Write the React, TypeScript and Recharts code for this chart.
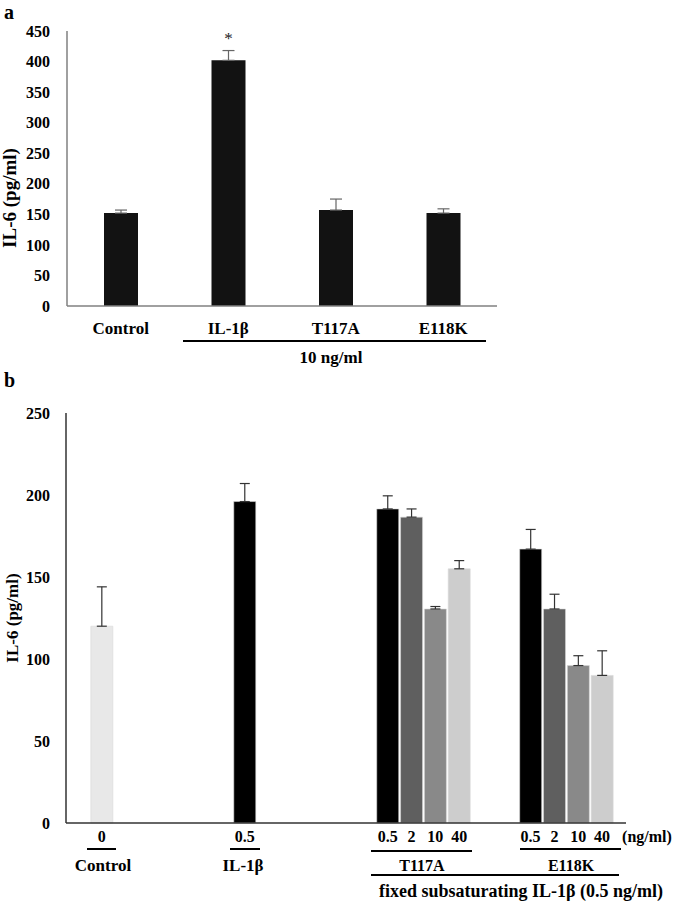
import { BarChart, Bar, XAxis, YAxis, ErrorBar, Cell, LabelList } from 'recharts';

const FONT = '"Liberation Serif", "Times New Roman", serif';

// panel a: 10 ng/ml stimulation
const aCategories = ['Control', 'IL-1β', 'T117A', 'E118K'];
const aValues = [152, 402, 157, 152];
const aErrors = [5, 16, 18, 7];
const aMarks = ['', '*', '', ''];
const aTicks = [0, 50, 100, 150, 200, 250, 300, 350, 400, 450];

// panel b: fixed subsaturating IL-1β + mutants
const bDoses = ['0.5', '2', '10', '40'];
const bDoseColors = ['#000000', '#5f5f5f', '#898989', '#cdcdcd'];
const controlValue = 120;
const controlError = 24;
const il1bValue = 196;
const il1bError = 11;
const t117aValues = [191.5, 186.5, 130.5, 155];
const t117aErrors = [8, 5, 1.5, 5];
const e118kValues = [167, 130.5, 96, 90];
const e118kErrors = [12, 9, 6, 15];
const bTicks = [0, 50, 100, 150, 200, 250];

const dataA = aCategories.map((name, i) => ({
  name,
  value: aValues[i],
  err: [0, aErrors[i]],
  sig: aMarks[i],
}));

type Row = { key: string; dose: string; value?: number; err?: number[]; color: string };
let gap = 0;
const spacer = (n: number): Row[] =>
  Array.from({ length: n }, () => ({ key: `gap${gap++}`, dose: '', color: '#fff' }));

const dataB: Row[] = [
  ...spacer(1),
  { key: 'ctrl', dose: '0', value: controlValue, err: [0, controlError], color: '#e8e8e8' },
  ...spacer(5),
  { key: 'il1b', dose: '0.5', value: il1bValue, err: [0, il1bError], color: '#000000' },
  ...spacer(5),
  ...bDoses.map((d, i) => ({
    key: `t117a-${d}`,
    dose: d,
    value: t117aValues[i],
    err: [0, t117aErrors[i]],
    color: bDoseColors[i],
  })),
  ...spacer(2),
  ...bDoses.map((d, i) => ({
    key: `e118k-${d}`,
    dose: d,
    value: e118kValues[i],
    err: [0, e118kErrors[i]],
    color: bDoseColors[i],
  })),
];

const doseByKey: Record<string, string> = {};
dataB.forEach((r) => (doseByKey[r.key] = r.dose));

const txt = { fontFamily: FONT, fontWeight: 'bold' as const, fill: '#000' };

function TickA(props: any) {
  const { x, y, payload } = props;
  return (
    <text x={x} y={y} dy={28} textAnchor="middle" fontSize={17} {...txt}>
      {payload.value}
    </text>
  );
}

function TickB(props: any) {
  const { x, y, payload } = props;
  const label = doseByKey[payload.value];
  if (!label) return null;
  return (
    <text x={x} y={y} dy={19} textAnchor="middle" fontSize={16} {...txt}>
      {label}
    </text>
  );
}

export default function App() {
  return (
    <div style={{ position: 'absolute', left: 0, top: 0, width: 675, height: 903, background: '#fff' }}>
      <div style={{ position: 'absolute', left: 0, top: 0 }}>
        <BarChart width={675} height={380} data={dataA} margin={{ top: 31, right: 178, bottom: 0, left: 0 }}>
          <XAxis
            dataKey="name"
            height={74}
            axisLine={{ stroke: '#808080', strokeWidth: 1.5 }}
            tickLine={false}
            tickSize={0}
            tickMargin={0}
            interval={0}
            tick={<TickA />}
          />
          <YAxis
            width={67}
            domain={[0, 450]}
            ticks={aTicks}
            interval={0}
            axisLine={{ stroke: '#808080', strokeWidth: 1.5 }}
            tickLine={false}
            tickSize={0}
            tickMargin={17}
            tick={{ fontSize: 16, ...txt }}
          />
          <Bar dataKey="value" fill="#121212" barSize={34} isAnimationActive={false}>
            <ErrorBar dataKey="err" width={6} stroke="#666" strokeWidth={1.2} direction="y" />
            <LabelList dataKey="sig" position="top" offset={16} fontSize={17} fontFamily={FONT} fill="#222" />
          </Bar>
        </BarChart>
      </div>

      <div style={{ position: 'absolute', left: 0, top: 380 }}>
        <BarChart width={675} height={523} data={dataB} margin={{ top: 33, right: 49, bottom: 0, left: 0 }}>
          <XAxis
            dataKey="key"
            height={80}
            padding={{ left: 0, right: 12 }}
            axisLine={{ stroke: '#333', strokeWidth: 1.5 }}
            tickLine={false}
            tickSize={0}
            tickMargin={0}
            interval={0}
            tick={<TickB />}
          />
          <YAxis
            width={66}
            domain={[0, 250]}
            ticks={bTicks}
            interval={0}
            axisLine={{ stroke: '#333', strokeWidth: 1.5 }}
            tickLine={false}
            tickSize={0}
            tickMargin={16}
            tick={{ fontSize: 16, ...txt }}
          />
          <Bar dataKey="value" barSize={22} isAnimationActive={false}>
            {dataB.map((r) => (
              <Cell key={r.key} fill={r.color} stroke="#d8d8d8" strokeWidth={0.6} />
            ))}
            <ErrorBar dataKey="err" width={5} stroke="#333" strokeWidth={1.2} direction="y" />
          </Bar>
        </BarChart>
      </div>

      <svg width={675} height={903} style={{ position: 'absolute', left: 0, top: 0, pointerEvents: 'none' }}>
        {/* panel a annotations */}
        <text x={4} y={19} fontSize={20} {...txt}>a</text>
        <text transform="translate(16,198) rotate(-90)" textAnchor="middle" fontSize={19} {...txt}>
          IL-6 (pg/ml)
        </text>
        <line x1={183} x2={486} y1={341} y2={341} stroke="#000" strokeWidth={1.8} />
        <text x={331} y={363} textAnchor="middle" fontSize={17} {...txt}>10 ng/ml</text>

        {/* panel b annotations */}
        <text x={4} y={387} fontSize={20} {...txt}>b</text>
        <text transform="translate(18,618) rotate(-90)" textAnchor="middle" fontSize={17} {...txt}>
          IL-6  (pg/ml)
        </text>
        <line x1={87} x2={116} y1={849} y2={849} stroke="#000" strokeWidth={2} />
        <line x1={230} x2={260} y1={849} y2={849} stroke="#000" strokeWidth={2} />
        <line x1={371} x2={472} y1={851} y2={851} stroke="#000" strokeWidth={2} />
        <line x1={520} x2={621} y1={849} y2={849} stroke="#000" strokeWidth={2} />
        <line x1={371} x2={619} y1={875} y2={875} stroke="#000" strokeWidth={2} />
        <text x={103} y={871} textAnchor="middle" fontSize={17} {...txt}>Control</text>
        <text x={243} y={871} textAnchor="middle" fontSize={17} {...txt}>IL-1β</text>
        <text x={422} y={871} textAnchor="middle" fontSize={16} {...txt}>T117A</text>
        <text x={571} y={871} textAnchor="middle" fontSize={16} {...txt}>E118K</text>
        <text x={647} y={842} textAnchor="middle" fontSize={16} {...txt}>(ng/ml)</text>
        <text x={521} y={897} textAnchor="middle" fontSize={18} {...txt}>
          fixed subsaturating IL-1β (0.5 ng/ml)
        </text>
      </svg>
    </div>
  );
}
